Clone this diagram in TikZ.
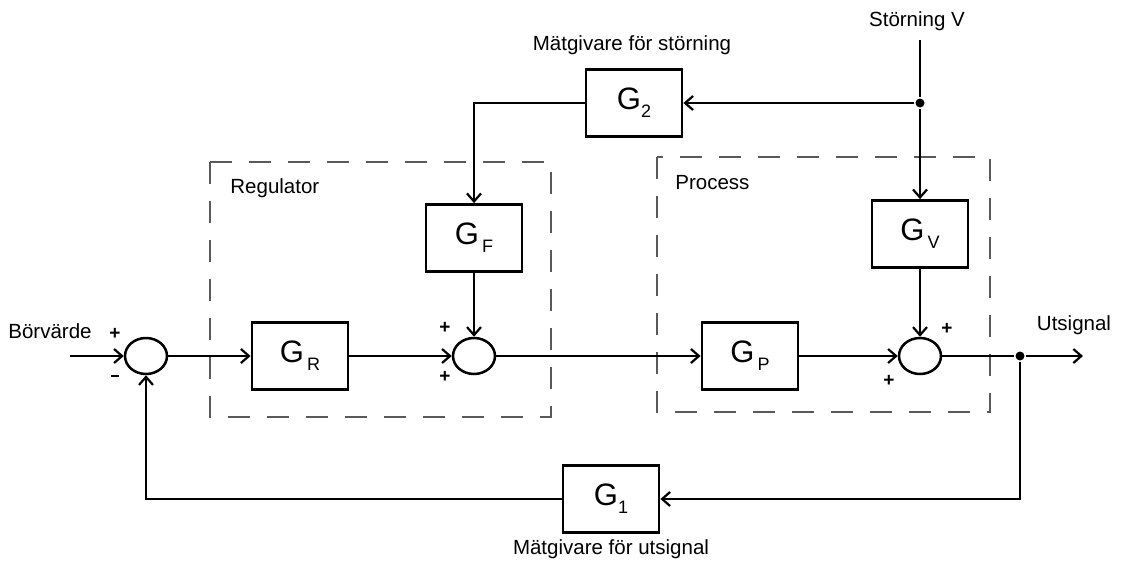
\documentclass[tikz,border=0pt]{standalone}
\usepackage{fontspec}
\setmainfont{Liberation Sans}
\usetikzlibrary{arrows.meta,positioning,shapes.geometric}

% block label: G with a lowered index
\newcommand{\gblk}[2]{G\kern#2\raisebox{-8pt}{\fontsize{18}{18}\selectfont #1}}

\begin{document}
\begin{tikzpicture}[x=1pt,y=-1pt,>={Straight Barb[length=8pt,width=14pt]},line width=2.2pt,
	block/.style={draw,line width=2.8pt,minimum width=96pt,minimum height=67pt,font=\fontsize{31}{31}\selectfont},
	sum/.style={ellipse,draw,line width=2.5pt,minimum width=42pt,minimum height=36pt},
	sign/.style={font=\fontsize{19}{19}\selectfont\bfseries},
	lbl/.style={font=\fontsize{20.5}{20.5}\selectfont},
	frame/.style={draw=black!65,line width=1.6pt,dash pattern=on 22pt off 17pt},
	dot/.style={circle,fill,inner sep=0pt,minimum size=9pt}]
	\useasboundingbox (0,0) rectangle (1122,560);
	% dashed frames
	\draw[frame] (210,162) rectangle (551,417);
	\draw[frame] (657,157) rectangle (990,412);
	\node[lbl,anchor=west] (reglbl) at (226,188) {Regulator};
	\node[lbl,anchor=west] (proclbl) at (671,183) {Process};
	% blocks and summing points
	\node[sum] (sum1) at (146,356) {};
	\node[block] (gr) at (300,356) {\gblk{R}{3pt}};
	\node[sum] (sum2) at (474,356) {};
	\node[block] (gf) at (474,238) {\gblk{F}{3pt}};
	\node[block] (gp) at (750,356) {\gblk{P}{3pt}};
	\node[sum] (sum3) at (920,356) {};
	\node[block] (gv) at (920,234) {\gblk{V}{3pt}};
	\node[block] (g2) at (634,103) {\gblk{2}{0pt}};
	\node[block] (g1) at (611,499) {\gblk{1}{0pt}};
	% signal points
	\coordinate (in) at (70,356);
	\node[dot] (ysplit) at (1020,356) {};
	\coordinate (out) at (1083,356);
	\coordinate (vtop) at (920,40);
	\node[dot] (vsplit) at (920,103) {};
	% texts
	\node[lbl] (ref) at (50,331) {Börvärde};
	\node[lbl] (outlbl) at (1074,325) {Utsignal};
	\node[lbl] (vlbl) at (917,21) {Störning V};
	\node[lbl] (g2lbl) at (632,45) {Mätgivare för störning};
	\node[lbl] (g1lbl) at (611,549) {Mätgivare för utsignal};
	\node[sign] (p1) at (115,334) {+};
	\node[sign] (m1) at (115,376) {\rule{8pt}{2.6pt}};
	\node[sign] (p2a) at (445,328) {+};
	\node[sign] (p2b) at (445,377) {+};
	\node[sign] (p3a) at (947,329) {+};
	\node[sign] (p3b) at (889,381) {+};
	% connections
	\draw[->] (in) -- (sum1);
	\draw[->] (sum1) -- (gr);
	\draw[->] (gr) -- (sum2);
	\draw[->] (sum2) -- (gp);
	\draw[->] (gp) -- (sum3);
	\draw (sum3) -- (ysplit);
	\draw[->] (ysplit) -- (out);
	\draw[->] (ysplit) |- (g1);
	\draw[->] (g1) -| (sum1);
	\draw (vtop) -- (vsplit);
	\draw[->] (vsplit) -- (gv);
	\draw[->] (gv) -- (sum3);
	\draw[->] (vsplit) -- (g2);
	\draw[->] (g2) -| (gf);
	\draw[->] (gf) -- (sum2);
\end{tikzpicture}
\end{document}
